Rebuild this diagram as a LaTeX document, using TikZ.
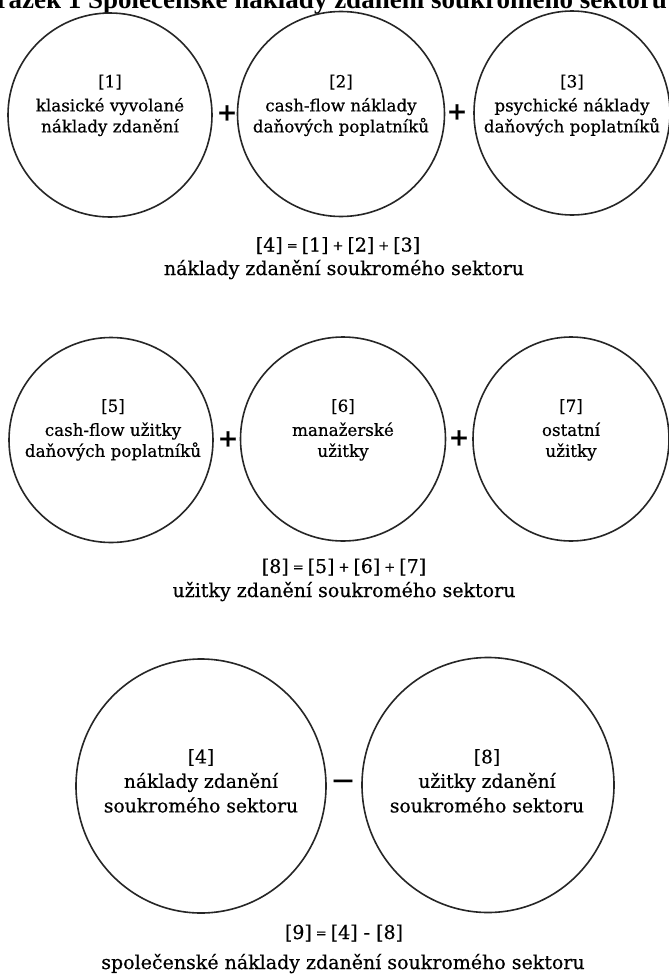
\documentclass[tikz,border=0pt]{standalone}
\usepackage{fontspec}
\setmainfont{DejaVu Serif}[FakeBold=0.5]
\newfontfamily\titlefont{Liberation Serif}
\usetikzlibrary{shapes.geometric}
\newcommand\opsm[1]{\hspace{4bp}\raisebox{1.5bp}{\fontsize{13bp}{13bp}\selectfont #1}\hspace{4bp}}
\begin{document}
\begin{tikzpicture}[x=1bp,y=-1bp,
  circ/.style={draw=black!85, line width=1.6bp, ellipse, inner sep=0pt},
  ctext/.style={align=center, inner sep=0pt, anchor=north, font=\fontsize{16.7bp}{21bp}\selectfont},
  btext/.style={align=center, inner sep=0pt, anchor=north, font=\fontsize{18.7bp}{24.5bp}\selectfont},
  optext/.style={inner sep=0pt, font=\fontsize{24bp}{24bp}\selectfont\bfseries},
  eqtext/.style={inner sep=0pt, anchor=base, font=\fontsize{19bp}{24bp}\selectfont}]
\useasboundingbox (0,0) rectangle (669,976);
\clip (0,0) rectangle (669,976);
\fill[white] (0,0) rectangle (669,976);
% title (cut off at the top in the reference)
\node[anchor=base east, inner sep=0pt, font=\titlefont\bfseries\fontsize{27bp}{27bp}\selectfont] (title) at (667,8.5) {Obrázek 1 Společenské náklady zdanění soukromého sektoru};
% row 1
\node[circ, minimum width=204bp, minimum height=204bp] (c1) at (110,115) {};
\node[circ, minimum width=207bp, minimum height=205bp] (c2) at (341,114) {};
\node[circ, minimum width=196bp, minimum height=204bp] (c3) at (572,113) {};
\node[ctext] (t1) at (110,74.5) {[1]\\[3bp]klasické vyvolané\\náklady zdanění};
\node[ctext] (t2) at (341,74.5) {[2]\\[3bp]cash-flow náklady\\daňových poplatníků};
\node[ctext] (t3) at (572,74.5) {[3]\\[3bp]psychické náklady\\daňových poplatníků};
\node[optext] (p1) at (227,113) {+};
\node[optext] (p2) at (457,112) {+};
\node[eqtext] (e1) at (338,251.5) {[4]\opsm{=}[1]\opsm{+}[2]\opsm{+}[3]};
\node[eqtext] (e1b) at (344,275) {náklady zdanění soukromého sektoru};
% row 2
\node[circ, minimum width=204bp, minimum height=205bp] (c5) at (111,440) {};
\node[circ, minimum width=205bp, minimum height=204bp] (c6) at (343,439) {};
\node[circ, minimum width=196bp, minimum height=204bp] (c7) at (571,439) {};
\node[ctext] (t5) at (113,399) {[5]\\[3bp]cash-flow užitky\\daňových poplatníků};
\node[ctext] (t6) at (343,399) {[6]\\[3bp]manažerské\\užitky};
\node[ctext] (t7) at (571,399) {[7]\\[3bp]ostatní\\užitky};
\node[optext] (p3) at (228,439) {+};
\node[optext] (p4) at (459,438) {+};
\node[eqtext] (e2) at (344,573) {[8]\opsm{=}[5]\opsm{+}[6]\opsm{+}[7]};
\node[eqtext] (e2b) at (344,597) {užitky zdanění soukromého sektoru};
% row 3
\node[circ, minimum width=250bp, minimum height=254bp] (c4) at (201,786) {};
\node[circ, minimum width=252bp, minimum height=255bp] (c8) at (488,785) {};
\node[btext] (t4) at (201,749) {[4]\\náklady zdanění\\soukromého sektoru};
\node[btext] (t8) at (487,749) {[8]\\užitky zdanění\\soukromého sektoru};
\node[optext, font=\fontsize{21bp}{21bp}\selectfont\bfseries] (m1) at (343,783) {—};
\node[eqtext] (e3) at (344,939) {[9]\opsm{=}[4] - [8]};
\node[eqtext] (e3b) at (343,969) {společenské náklady zdanění soukromého sektoru};
\end{tikzpicture}
\end{document}
